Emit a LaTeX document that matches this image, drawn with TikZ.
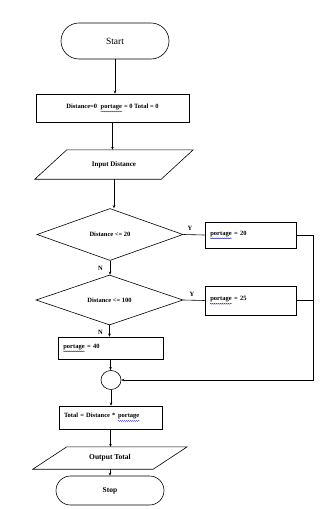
\documentclass[tikz,border=0pt]{standalone}
\usepackage{fontspec}
\setmainfont{Liberation Serif}
\usetikzlibrary{shapes.geometric,arrows.meta,decorations.pathmorphing}
\newcommand\spellmark[1]{\tikz[baseline=(w.base)]{\node[inner sep=0pt,draw=none,shape=rectangle,minimum size=0pt](w){#1};\draw[decorate,decoration={snake,amplitude=0.45pt,segment length=2pt},draw=blue!70!black,line width=0.3pt]([yshift=-1.3pt]w.south west)--([yshift=-1.3pt]w.south east);}}
\tikzset{
  every node/.style={font=\bfseries\fontsize{6.5}{7.5}\selectfont},
  box/.style={draw,line width=0.6pt,shape=rectangle,inner sep=0pt},
  lbox/.style={box,align=left,inner xsep=5pt},
  term/.style={draw,line width=0.6pt,shape=rectangle},
  cond/.style={draw,line width=0.6pt,shape=diamond,inner sep=0pt},
  io/.style={draw=none,shape=rectangle,inner sep=0pt},
  arr/.style={line width=0.6pt,-{Stealth[length=3pt,width=2.6pt]}},
  ln/.style={line width=0.6pt},
  yn/.style={font=\bfseries\fontsize{6.5}{7.5}\selectfont,inner sep=0pt}
}
\begin{document}
\begin{tikzpicture}[x=1pt,y=-1pt]
\useasboundingbox (0,0) rectangle (324,509);
% start
\node[term,rounded corners=18pt,minimum width=108pt,minimum height=36pt,font=\fontsize{9.5}{11}\selectfont] (start) at (115,41) {Start};
\node[box,minimum width=153pt,minimum height=28pt] (init) at (112.5,108) {Distance=0\ \ \spellmark{portage} = 0 Total = 0};
% input
\node[io,minimum width=126pt,minimum height=29pt,font=\bfseries\fontsize{7}{8}\selectfont] (inp) at (114,164.5) {Input Distance};
\draw[ln] ([xshift=16pt]inp.north west) -- ([xshift=16pt]inp.north east) -- ([xshift=-16pt]inp.south east) -- ([xshift=-16pt]inp.south west) -- cycle;
% decisions
\node[cond,minimum width=146pt,minimum height=52pt,aspect=2.8] (d1) at (110,234.5) {Distance <= 20};
\node[cond,minimum width=147pt,minimum height=50pt,aspect=2.9] (d2) at (109.5,300) {Distance <= 100};
\node[lbox,text width=81pt,minimum height=26pt] (p20) at (250.5,235) {\spellmark{portage} = 20};
\node[lbox,text width=81pt,minimum height=29pt] (p25) at (250.5,300.5) {\spellmark{portage} = 25};
\node[lbox,text width=95pt,minimum height=22pt] (p40) at (110.5,348) {\spellmark{portage} = 40};
% connector circle
\node[draw,line width=0.6pt,shape=ellipse,minimum width=20pt,minimum height=19pt,inner sep=0pt] (jn) at (111,380) {};
\node[lbox,text width=93pt,minimum height=23pt] (tot) at (110.5,417.5) {Total = Distance * \spellmark{portage}};
\node[io,minimum width=120pt,minimum height=22pt,font=\bfseries\fontsize{7.5}{8.5}\selectfont] (out) at (110,458) {Output Total};
\draw[ln] ([xshift=17pt]out.north west) -- ([xshift=17pt]out.north east) -- ([xshift=-17pt]out.south east) -- ([xshift=-17pt]out.south west) -- cycle;
\node[term,rounded corners=14.5pt,minimum width=108pt,minimum height=29pt,font=\bfseries\fontsize{7.5}{8.5}\selectfont] (stop) at (110,490.5) {Stop};
% right rail
\coordinate (r1) at (313,235);
\coordinate (r2) at (313,300.5);
\coordinate (r3) at (313,380);
% arrows
\draw[arr] (start.south) -- (start.south |- init.north);
\draw[arr] (init.south) -- (init.south |- inp.north);
\draw[arr] (inp.south) -- (inp.south |- d1.north);
\draw[arr] (d1.south) -- (d1.south |- d2.north);
\draw[arr] (d2.south) -- (d2.south |- p40.north);
\draw[arr] (p40.south) -- (p40.south |- jn.north);
\draw[arr] (jn.south) -- (jn.south |- tot.north);
\draw[arr] (tot.south) -- (tot.south |- out.north);
\draw[arr] (out.south) -- (out.south |- stop.north);
\draw[ln] (d1.east) -- (p20.west);
\draw[ln] (d2.east) -- (p25.west);
\draw[ln] (p20.east) -- (r1) -- (r2);
\draw[ln] (p25.east) -- (r2);
\draw[arr] (r2) -- (r3) -- (jn.east);
% labels
\node[yn] (y1) at (190,228) {Y};
\node[yn] (y2) at (192,294.5) {Y};
\node[yn] (n1) at (100.5,268) {N};
\node[yn] (n2) at (100.5,332) {N};
\end{tikzpicture}
\end{document}
